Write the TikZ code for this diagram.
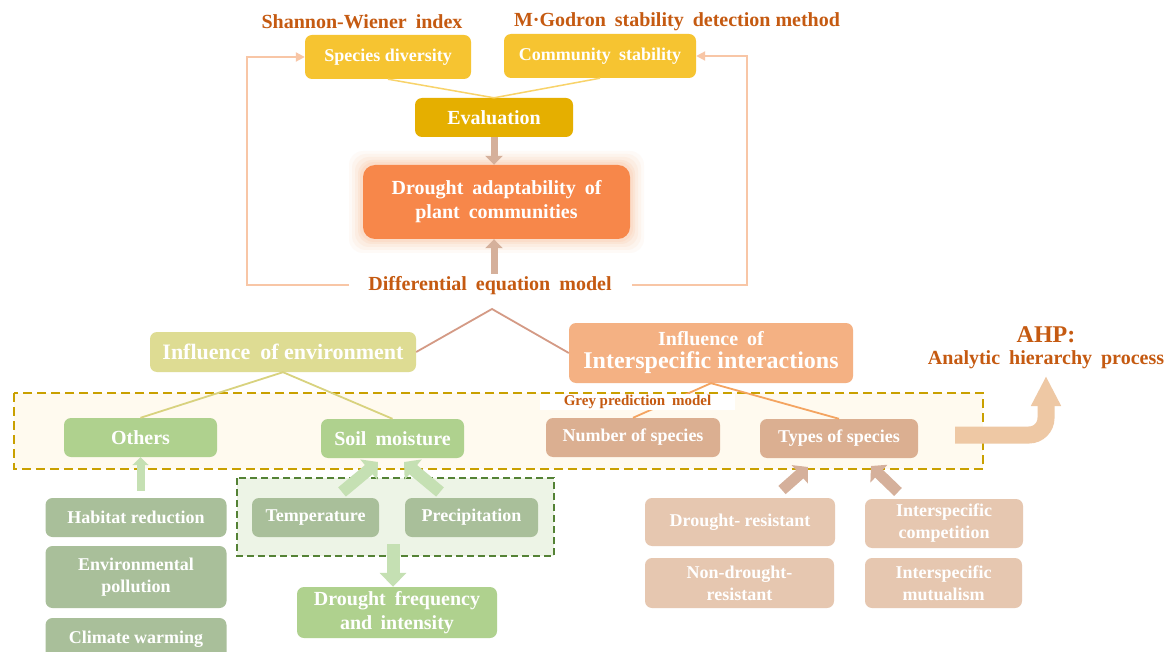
\documentclass[tikz,border=0pt]{standalone}
\usepackage{fontspec}
\setmainfont{Liberation Serif}
\usetikzlibrary{arrows.meta,calc}
\newcommand{\dsp}{\hspace{0.45em}}
\definecolor{ttl}{HTML}{C55A11}
\definecolor{gold}{HTML}{F6C431}
\definecolor{dgold}{HTML}{E5AF00}
\definecolor{orng}{HTML}{F7874A}
\definecolor{glow}{HTML}{FBD3BA}
\definecolor{olive}{HTML}{DEDC93}
\definecolor{salm}{HTML}{F4B183}
\definecolor{grn}{HTML}{AFD18E}
\definecolor{ggrn}{HTML}{A9BF9A}
\definecolor{tan}{HTML}{DBAF91}
\definecolor{ltan}{HTML}{E6C7B0}
\definecolor{arrtan}{HTML}{D5B09B}
\definecolor{ahp}{HTML}{EEC8A4}
\definecolor{fb}{HTML}{F8C6A6}
\definecolor{rose}{HTML}{D49A85}
\definecolor{oline}{HTML}{D8D27E}
\definecolor{yline}{HTML}{F8D36A}
\definecolor{sline}{HTML}{F4A460}
\definecolor{lgrn}{HTML}{C5E0B3}
\definecolor{dash1}{HTML}{C9A000}
\definecolor{fill1}{HTML}{FFFAEF}
\definecolor{dash2}{HTML}{548235}
\definecolor{fill2}{HTML}{EDF4E6}
\tikzset{
  box/.style={rounded corners=7pt, text=white, font=\bfseries\fontsize{18}{22}\selectfont, align=center, inner sep=0pt},
  bigbox/.style={box, font=\bfseries\fontsize{20}{24}\selectfont},
  ttltext/.style={text=ttl, font=\bfseries\fontsize{20}{22}\selectfont, inner sep=1pt},
  fat/.style={line width=11pt, arrtan, -{Triangle[length=11pt,width=24pt]}},
  gfat/.style={line width=12pt, lgrn, -{Triangle[length=12pt,width=26pt]}},
}
\begin{document}
\begin{tikzpicture}[x=1pt,y=-1pt]
\useasboundingbox (0,0) rectangle (1169,652);
\clip (0,0) rectangle (1169,652);
\fill[white] (0,0) rectangle (1169,652);

% dashed frames
\draw[dash1, line width=2pt, dash pattern=on 9pt off 5pt, fill=fill1] (14,393) rectangle (983,469);
\draw[dash2, line width=1.5pt, dash pattern=on 7pt off 4pt, fill=fill2] (237,478) rectangle (554,556);

% titles
\node[ttltext] (swi) at (362,22) {Shannon-Wiener\dsp index};
\node[ttltext] (mg) at (677,22) {M·Godron\dsp stability\dsp detection method};
\node[ttltext] (dem) at (490,286) {Differential\dsp equation\dsp model};
\node[text=ttl, font=\bfseries\fontsize{24}{26}\selectfont, inner sep=0pt] (ahp1) at (1046,335) {AHP:};
\node[text=ttl, font=\bfseries\fontsize{20}{22}\selectfont, inner sep=0pt] (ahp2) at (1046,360) {Analytic\dsp hierarchy\dsp process};

% glow
\foreach \g/\o in {14/0.10,11/0.15,8/0.2,5/0.3,3/0.4}{
  \fill[glow, opacity=\o, rounded corners=14pt] (363-\g,165-\g) rectangle (630+\g,239+\g);
}

% boxes
\node[box, fill=gold, minimum width=166pt, minimum height=44pt] (sd) at (388,57) {Species diversity};
\node[box, fill=gold, minimum width=192pt, minimum height=44pt] (cs) at (600,56) {Community\dsp stability};
\node[bigbox, fill=dgold, minimum width=158pt, minimum height=39pt] (ev) at (494,117.5) {Evaluation};
\node[bigbox, fill=orng, minimum width=267pt, minimum height=74pt, rounded corners=12pt] (da) at (496.5,202) {Drought\dsp adaptability\dsp of\\plant\dsp communities};
\node[box, fill=olive, minimum width=266pt, minimum height=40pt, font=\bfseries\fontsize{22}{24}\selectfont] (ie) at (283,352) {Influence\dsp of environment};
\node[box, fill=salm, minimum width=284pt, minimum height=60pt, font=\bfseries\fontsize{20}{22}\selectfont] (ii) at (711,353) {Influence\dsp of\\[1pt]{\fontsize{24}{25}\selectfont Interspecific interactions}};
\node[bigbox, fill=grn, minimum width=153pt, minimum height=39pt] (ot) at (140.5,437.5) {Others};
\node[bigbox, fill=grn, minimum width=143pt, minimum height=39pt] (sm) at (392.5,438.5) {Soil\dsp moisture};
\node[box, fill=tan, minimum width=174pt, minimum height=39pt] (ns) at (633,437.5) {Number of species};
\node[box, fill=tan, minimum width=158pt, minimum height=39pt] (ts) at (839,438.5) {Types of species};
\node[box, fill=ggrn, minimum width=181pt, minimum height=39pt] (hr) at (136,517.5) {Habitat reduction};
\node[box, fill=ggrn, minimum width=181pt, minimum height=62pt] (ep) at (136,577) {Environmental\\pollution};
\node[box, fill=ggrn, minimum width=181pt, minimum height=42pt] (cw) at (136,639) {Climate warming};
\node[box, fill=ggrn, minimum width=127pt, minimum height=39pt] (te) at (315.5,517.5) {Temperature};
\node[box, fill=ggrn, minimum width=133pt, minimum height=39pt] (pr) at (471.5,517.5) {Precipitation};
\node[bigbox, fill=grn, minimum width=200pt, minimum height=51pt] (df) at (397,612.5) {Drought\dsp frequency\\and\, intensity};
\node[box, fill=ltan, minimum width=190pt, minimum height=48pt] (dr) at (740,522) {Drought- resistant};
\node[box, fill=ltan, minimum width=189pt, minimum height=50pt] (nd) at (739.5,583) {Non-drought-\\resistant};
\node[box, fill=ltan, minimum width=158pt, minimum height=49pt] (ic) at (944,523.5) {Interspecific\\competition};
\node[box, fill=ltan, minimum width=157pt, minimum height=50pt] (im) at (943.5,583) {Interspecific\\mutualism};

% connectors
\draw[yline, line width=1.5pt] (sd.south) -- (ev.north) -- (cs.south);
\coordinate (evh) at (ev.south |- da.north);
\draw[fat, line width=7pt, -{Triangle[length=9pt,width=17pt]}] (ev.south) -- (evh);
\coordinate (dt) at ($(dem.north)+(4,-2)$);
\coordinate (dh) at (dt |- da.south);
\draw[fat, line width=7pt, -{Triangle[length=9pt,width=17pt]}] (dt) -- (dh);
\coordinate (fl) at (349,285);
\coordinate (fr) at (632,285);
\draw[fb, line width=2pt, -{Triangle[length=9pt,width=9pt]}] (fl) -- (247,285) |- (sd.west);
\draw[fb, line width=2pt, -{Triangle[length=9pt,width=9pt]}] (fr) -- (747,285) |- (cs.east);
\coordinate (j1) at (492,309);
\draw[rose, line width=1.8pt] (ie.east) -- (j1) -- (ii.west);
\draw[oline, line width=1.8pt] (ie.south) -- (ot.north);
\draw[oline, line width=1.8pt] (ie.south) -- (sm.north);
\draw[sline, line width=1.8pt] (ii.south) -- (ns.north);
\draw[sline, line width=1.8pt] (ii.south) -- (ts.north);

% grey prediction label
\node[fill=white, text=ttl, font=\bfseries\fontsize{15}{16}\selectfont, minimum width=195pt, minimum height=16pt, inner sep=0pt] (gp) at (637.5,402) {Grey prediction\dsp model};

% thick arrows
\coordinate (hrt) at ($(ot.south |- hr.north)+(0,-7)$);
\draw[lgrn, line width=8pt, -{Triangle[length=8pt,width=16pt]}] (hrt) -- (ot.south);
\coordinate (tet) at (342,492);
\coordinate (tetip) at (378,462);
\coordinate (prt) at (440,492);
\coordinate (prtip) at (404,462);
\draw[gfat] (tet) -- (tetip);
\draw[gfat] (prt) -- (prtip);
\coordinate (gb) at (393,544);
\coordinate (gbh) at (gb |- df.north);
\draw[gfat, line width=13pt, -{Triangle[length=14pt,width=26pt]}] (gb) -- (gbh);
\coordinate (drt) at (782,490);
\coordinate (drtip) at (808,467);
\coordinate (ict) at (898,492);
\coordinate (ictip) at (871,466);
\draw[fat] (drt) -- (drtip);
\draw[fat] (ict) -- (ictip);

% AHP arrow
\coordinate (ahs) at (955,435);
\coordinate (ahc) at (1046,435);
\coordinate (ahe) at (1046,376);
\draw[ahp, line width=17pt, rounded corners=17pt, -{Triangle[length=30pt,width=28pt]}] (ahs) -- (ahc) -- (ahe);
\end{tikzpicture}
\end{document}
